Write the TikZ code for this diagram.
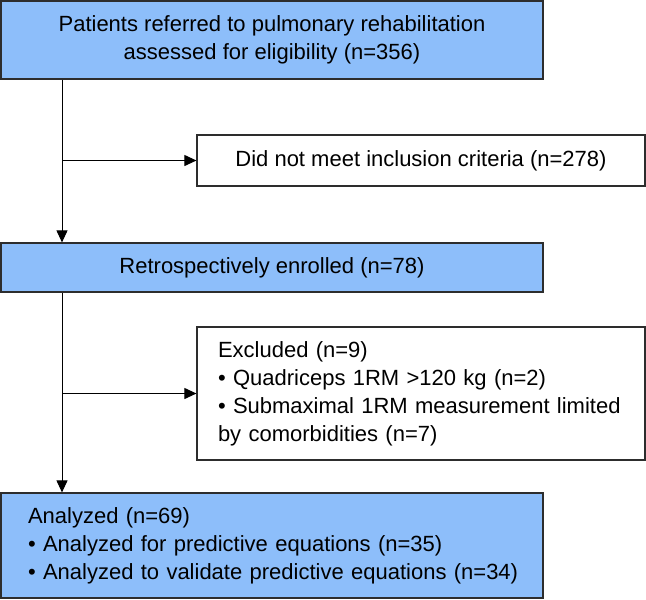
\documentclass[tikz,border=0pt]{standalone}
\usepackage{fontspec}
\setmainfont{Liberation Sans}
\usepackage{tikz}
\usetikzlibrary{arrows.meta}
\definecolor{flowblue}{RGB}{141,190,250}
\definecolor{flowedge}{RGB}{45,45,45}

\begin{document}
\begin{tikzpicture}[x=1pt,y=-1pt,
  font=\fontsize{22}{28}\selectfont,
  stagebox/.style={draw=flowedge, line width=1.2pt, fill=flowblue, minimum width=542pt, inner sep=0pt, align=center},
  exclbox/.style={draw=flowedge, line width=1.2pt, fill=white, minimum width=448pt, inner sep=0pt, align=center},
  flowarrow/.style={line width=1pt, -{Triangle[length=12pt,width=11pt]}}]
  \useasboundingbox (0,0) rectangle (646,600);

  % Main stages (blue)
  \node[stagebox, minimum height=78pt] (assessed) at (272,40) {Patients referred to pulmonary rehabilitation\\assessed for eligibility (n=356)};
  \node[stagebox, minimum height=49pt] (enrolled) at (272,267.5) {Retrospectively enrolled (n=78)};
  \node[stagebox, minimum height=105pt, inner xsep=27pt, text width=488pt, align=left] (analyzed) at (272,545.5) {Analyzed (n=69)\\%
    \mbox{• Analyzed for predictive equations (n=35)}\\%
    \mbox{• Analyzed to validate predictive equations (n=34)}};

  % Side boxes (white)
  \node[exclbox, minimum height=51pt] (notmet) at (421,160.5) {Did not meet inclusion criteria (n=278)};
  \node[exclbox, minimum height=133pt, inner xsep=21pt, text width=406pt, align=left] (excluded) at (421,393.5) {Excluded (n=9)\\%
    \mbox{• Quadriceps 1RM >120 kg (n=2)}\\%
    \mbox{• Submaximal 1RM measurement limited}\\%
    by comorbidities (n=7)};

  % Connectors along the left spine
  \coordinate (spine) at (62,0);
  \draw [flowarrow] (assessed.south -| spine) -- (enrolled.north -| spine);
  \draw [flowarrow] (notmet.west -| spine) -- (notmet.west);
  \draw [flowarrow] (enrolled.south -| spine) -- (analyzed.north -| spine);
  \draw [flowarrow] (excluded.west -| spine) -- (excluded.west);
\end{tikzpicture}
\end{document}
